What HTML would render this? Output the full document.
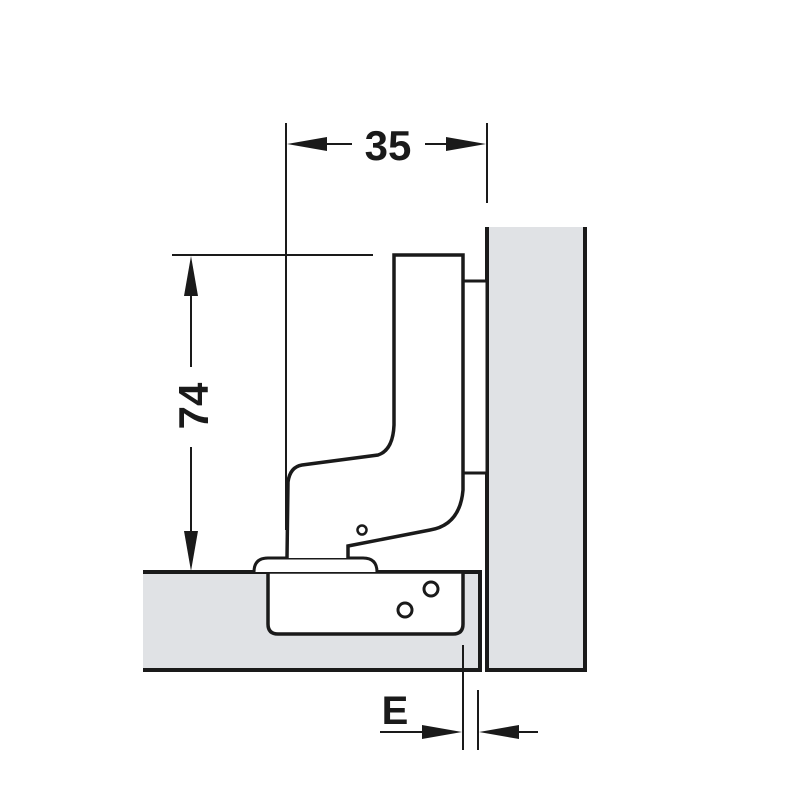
<!DOCTYPE html>
<html><head><style>body{margin:0;background:#fff}svg{display:block}</style></head><body>
<svg width="800" height="800" viewBox="0 0 800 800" xmlns="http://www.w3.org/2000/svg">
<g stroke="#1a1a1a" fill="none" stroke-linecap="butt">
<!-- door -->
<path d="M487,227 L585,227 L585,670 L487,670 Z" fill="#e0e2e5" stroke="none"/>
<path d="M487,227 L487,670 L585,670 L585,227" stroke-width="4"/>
<!-- cabinet -->
<rect x="143" y="572" width="337" height="98" fill="#e0e2e5" stroke="none"/>
<path d="M143,572 L480,572 L480,670 L143,670" stroke-width="4"/>
<!-- cup -->
<path d="M268,572 L268,624 Q268,634 278,634 L453,634 Q463,634 463,624 L463,572 Z" fill="#fff" stroke-width="3.5"/>
<circle cx="431" cy="589" r="7" stroke-width="3" fill="#fff"/>
<circle cx="405" cy="610" r="7" stroke-width="3" fill="#fff"/>
<!-- base plate -->
<path d="M254,572 Q254,558 268,558 L363,558 Q377,558 377,572" fill="#fff" stroke-width="3"/>
<!-- plate -->
<rect x="463" y="281" width="24" height="192" fill="#fff" stroke-width="3"/>
<!-- arm -->
<path d="M287,558 L288,482 Q290,467 302,465 L378,455 Q393,450 394,425 L394,255 L463,255 L463,490 Q460,525 430,530 L348,546 L348,558" fill="#fff" stroke-width="3.5"/>
<circle cx="362" cy="530" r="4.5" stroke-width="2.5" fill="#fff"/>
<!-- dimension lines -->
<path d="M286,123 L286,530" stroke-width="2"/>
<path d="M487,123 L487,203" stroke-width="2"/>
<path d="M172,255 L373,255" stroke-width="2"/>
<path d="M172,572 L254,572" stroke-width="4"/>
<path d="M191,262 L191,367 M191,447 L191,565" stroke-width="2"/>
<path d="M300,144 L352,144 M425,144 L475,144" stroke-width="2"/>
<path d="M463,645 L463,750 M478,690 L478,750" stroke-width="2"/>
<path d="M380,732 L455,732 M486,732 L538,732" stroke-width="2"/>
</g>
<g fill="#1a1a1a">
<path d="M287,144 L327,137 L327,151 Z"/>
<path d="M486,144 L446,137 L446,151 Z"/>
<path d="M191,256 L184,296 L198,296 Z"/>
<path d="M191,571 L184,531 L198,531 Z"/>
<path d="M462,732 L422,725 L422,739 Z"/>
<path d="M479,732 L519,725 L519,739 Z"/>
</g>
<g font-family="Liberation Sans, sans-serif" font-weight="bold" fill="#1a1a1a">
<text x="388" y="160" font-size="42" text-anchor="middle">35</text>
<text transform="translate(208,406) rotate(-90)" font-size="42" text-anchor="middle">74</text>
<text x="395" y="724" font-size="40" text-anchor="middle">E</text>
</g>
</svg>
</body></html>
